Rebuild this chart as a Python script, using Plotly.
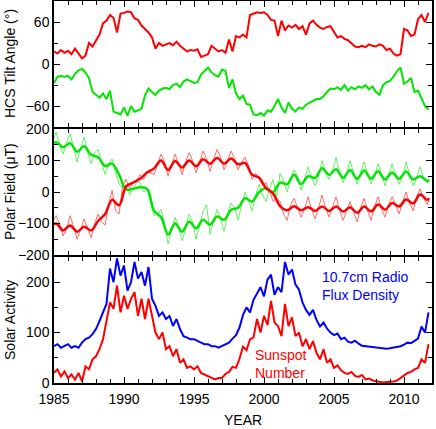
import plotly.graph_objects as go
from plotly.subplots import make_subplots

# ---------------- HCS tilt angle (quarterly samples 1985.0 .. 2011.75) ----------------
tilt_north = [18, 15, 20, 16, 19, 14, 22, 15, 8, 12, 30, 25, 33, 42, 58, 62,
              70, 66, 45, 72, 73, 75, 74, 65, 63, 55, 50, 45, 38, 22, 30, 26,
              28, 30, 27, 32, 26, 22, 18, 20, 19, 21, 10, 12, 14, 26, 22, 18,
              20, 16, 35, 18, 40, 38, 42, 38, 70, 72, 74, 73, 74, 70, 63, 62,
              40, 62, 48, 55, 52, 56, 50, 54, 42, 58, 62, 56, 52, 50, 53, 54,
              46, 38, 40, 36, 34, 30, 25, 24, 26, 24, 28, 26, 25, 28, 26, 20,
              22, 15, 12, 14, 50, 48, 40, 42, 64, 70, 60, 73]
tilt_south = [-27, -18, -17, -18, -17, -22, -14, -9, -7, -12, -20, -40, -44, -48, -42, -50,
              -38, -68, -70, -72, -62, -74, -60, -68, -66, -64, -45, -35, -40, -44, -38, -35,
              -34, -36, -30, -28, -33, -25, -22, -25, -27, -26, -15, -10, -5, -12, -16, -18,
              -8, -10, -34, -22, -42, -50, -45, -57, -58, -72, -73, -70, -74, -66, -68, -60,
              -50, -62, -70, -55, -64, -68, -62, -64, -58, -55, -52, -50, -50, -46, -40, -35,
              -36, -33, -37, -30, -38, -33, -36, -32, -34, -30, -36, -32, -40, -44, -30, -26,
              -24, -18, -10, -5, -28, -25, -20, -40, -38, -50, -60, -65]

# ---------------- Polar field: raw (thin) samples ----------------
raw_north = [-95, -75, -100, -140, -115, -75, -110, -150, -120, -85, -115, -145,
             -100, -70, -95, -105, -40, 5, -60, -70, 20, 40, 10, 30, 35, 55, 40, 65,
             60, 55, 90, 120, 95, 50, 85, 120, 90, 55, 95, 125, 100, 60, 95, 130,
             105, 65, 105, 135, 110, 70, 100, 130, 105, 70, 95, 110, 80, 40, 60, 45,
             20, 30, 0, -30, -20, -30, -70, -90, -40, -20, -50, -80, -55, -15, -55, -85,
             -50, -10, -50, -80, -45, -15, -60, -90, -60, -30, -65, -95, -50, -20, -60, -90,
             -45, -15, -55, -80, -40, -15, -40, -70, -30, 0, -35, -60, -15, 10, -20, -40, -25]
raw_south = [160, 190, 150, 120, 160, 185, 140, 95, 140, 175, 125, 90,
             125, 135, 95, 55, 90, 105, 60, 25, 15, 20, -10, 10, 30, 30, 0, 10,
             -30, -75, -70, -55, -100, -165, -120, -80, -110, -155, -115, -70, -95, -150, -110, -60,
             -40, -135, -90, -55, -85, -125, -70, -35, -50, -90, -40, 0, -30, -60, -10, 25,
             -10, -30, 10, 40, -20, 60, 35, 0, 40, 70, 50, 5, 40, 80, 45, 20,
             50, 100, 60, 40, 70, 110, 60, 30, 60, 100, 60, 25, 60, 95, 60, 25,
             55, 90, 55, 20, 55, 90, 55, 25, 50, 95, 55, 20, 45, 80, 45, 30, 35]

# ---------------- Polar field: smoothed (half-year samples) ----------------
smooth_north = [-115, -100, -122, -106, -126, -110, -122, -92, -70, -25, -42, 18, 30, 42,
                62, 75, 100, 70, 98, 78, 100, 82, 104, 90, 108, 90, 106, 88, 92, 55,
                45, 12, -5, -45, -58, -45, -58, -48, -60, -46, -60, -46, -62, -48, -66,
                -46, -62, -40, -56, -35, -46, -24, -36, -8, -25, -20]
smooth_south = [145, 158, 142, 155, 128, 145, 118, 110, 82, 90, 55, 8, 10, 15,
                10, -60, -80, -135, -100, -126, -94, -115, -88, -104, -78, -88, -56, -50, -20, -30,
                0, 12, 0, 30, 25, 55, 25, 50, 45, 75, 55, 72, 45, 70, 42,
                68, 42, 66, 40, 62, 42, 65, 40, 50, 35, 38]

# ---------------- Solar activity (quarterly samples) ----------------
radio_flux = [73, 77, 70, 73, 77, 70, 73, 70, 80, 87, 90, 97, 107, 123, 140, 157,
              227, 200, 247, 213, 233, 183, 200, 240, 207, 220, 193, 230, 167, 153, 133, 140,
              127, 133, 113, 127, 107, 93, 90, 87, 87, 83, 80, 77, 77, 73, 73, 70,
              73, 77, 80, 88, 95, 110, 135, 150, 140, 165, 178, 190, 172, 205, 215, 175,
              190, 180, 240, 215, 225, 195, 185, 160, 145, 135, 145, 125, 112, 120, 108, 100,
              95, 98, 87, 90, 82, 80, 84, 78, 74, 73, 72, 71, 70, 70, 69, 68,
              69, 70, 71, 73, 76, 80, 79, 84, 88, 112, 100, 140]
sunspots = [20, 27, 13, 23, 10, 17, 7, 20, 3, 33, 27, 47, 53, 67, 87, 120,
            160, 147, 193, 140, 173, 147, 167, 180, 133, 167, 127, 167, 133, 100, 87, 100,
            67, 73, 53, 67, 40, 47, 30, 33, 27, 33, 20, 17, 13, 10, 7, 10,
            10, 18, 22, 32, 30, 48, 72, 65, 87, 90, 127, 100, 133, 115, 163, 120,
            113, 93, 157, 113, 130, 93, 100, 73, 87, 67, 83, 60, 47, 67, 40, 47,
            30, 35, 25, 20, 18, 22, 14, 12, 16, 7, 9, 5, 4, 3, 1, 2,
            2, 3, 5, 10, 14, 20, 22, 27, 30, 47, 40, 77]

q_years = [1985 + 0.25 * i for i in range(len(tilt_north))]
raw_years = [1984.9 + 0.25 * i for i in range(len(raw_north) - 1)] + [2011.8]
smooth_years = [1984.65 + 0.5 * i for i in range(len(smooth_north) - 1)] + [2011.8]

RED = "#ff0000"
GREEN = "#00e600"
BLUE = "#0000ff"
FONT = "Liberation Sans, Arial, Helvetica, sans-serif"

fig = make_subplots(rows=3, cols=1, shared_xaxes=True, vertical_spacing=0.005)

# panel 1
fig.add_trace(go.Scatter(x=q_years, y=tilt_north, mode="lines",
                         line=dict(color=RED, width=2)), row=1, col=1)
fig.add_trace(go.Scatter(x=q_years, y=tilt_south, mode="lines",
                         line=dict(color=GREEN, width=2)), row=1, col=1)
# panel 2
fig.add_trace(go.Scatter(x=raw_years, y=raw_south, mode="lines",
                         line=dict(color="#66f066", width=1)), row=2, col=1)
fig.add_trace(go.Scatter(x=raw_years, y=raw_north, mode="lines",
                         line=dict(color="#ff6a6a", width=1)), row=2, col=1)
fig.add_trace(go.Scatter(x=smooth_years, y=smooth_south, mode="lines",
                         line=dict(color=GREEN, width=2.5, shape="spline", smoothing=1)), row=2, col=1)
fig.add_trace(go.Scatter(x=smooth_years, y=smooth_north, mode="lines",
                         line=dict(color=RED, width=2.5, shape="spline", smoothing=1)), row=2, col=1)
# panel 3
fig.add_trace(go.Scatter(x=q_years, y=radio_flux, mode="lines",
                         line=dict(color=BLUE, width=2)), row=3, col=1)
fig.add_trace(go.Scatter(x=q_years, y=sunspots, mode="lines",
                         line=dict(color=RED, width=2)), row=3, col=1)

axis_common = dict(showline=True, linecolor="black", linewidth=1.5, mirror="ticks",
                   ticks="inside", ticklen=6, tickwidth=1, tickcolor="black",
                   showgrid=False, zeroline=False, automargin=False,
                   tickfont=dict(family=FONT, size=14, color="black"))

for i in (1, 2, 3):
    fig.update_xaxes(range=[1985, 2012], tick0=1985, dtick=5, ticklabelstandoff=2,
                     minor=dict(dtick=1, ticks="inside", ticklen=4, tickcolor="black", showgrid=False),
                     row=i, col=1, **axis_common)

fig.update_yaxes(range=[-90, 90], tick0=0, dtick=60,
                 minor=dict(dtick=30, ticks="inside", ticklen=4, tickcolor="black", showgrid=False),
                 row=1, col=1, **axis_common)
fig.update_yaxes(range=[-200, 200], tick0=0, dtick=100,
                 minor=dict(dtick=50, ticks="inside", ticklen=4, tickcolor="black", showgrid=False),
                 row=2, col=1, **axis_common)
fig.update_yaxes(range=[0, 250], tick0=0, dtick=100,
                 minor=dict(dtick=50, ticks="inside", ticklen=4, tickcolor="black", showgrid=False),
                 row=3, col=1, **axis_common)

fig.update_layout(
    width=436, height=429,
    margin=dict(l=54, r=4, t=1, b=46, autoexpand=False),
    paper_bgcolor="white", plot_bgcolor="white",
    showlegend=False,
    font=dict(family=FONT, size=14, color="black"),
    yaxis=dict(domain=[0.670, 1.0]),
    yaxis2=dict(domain=[0.335, 0.665]),
    yaxis3=dict(domain=[0.0, 0.330]),
)

titles = [("HCS Tilt Angle (°)", 0.835), ("Polar Field (μT)", 0.50), ("Solar Activity", 0.165)]
for text, yc in titles:
    fig.add_annotation(text=text, xref="paper", yref="paper", x=0, y=yc,
                       xshift=-44, textangle=-90, showarrow=False,
                       xanchor="center", yanchor="middle",
                       font=dict(family=FONT, size=14, color="black"))

fig.add_annotation(text="YEAR", xref="paper", yref="paper", x=0.5, y=0, yshift=-37,
                   xanchor="center", yanchor="middle",
                   showarrow=False, font=dict(family=FONT, size=14, color="black"))

fig.add_annotation(text="10.7cm Radio<br>Flux Density", xref="x3", yref="y3",
                   x=2004.0, y=192, xanchor="left", yanchor="middle", align="left",
                   showarrow=False, font=dict(family=FONT, size=14, color=BLUE))
fig.add_annotation(text="Sunspot<br>Number", xref="x3", yref="y3",
                   x=1999.2, y=38, xanchor="left", yanchor="middle", align="left",
                   showarrow=False, font=dict(family=FONT, size=14, color=RED))

fig.write_html("out.html", config={"displayModeBar": False},
               post_script="document.body.style.margin='0';document.body.style.overflow='hidden';")
